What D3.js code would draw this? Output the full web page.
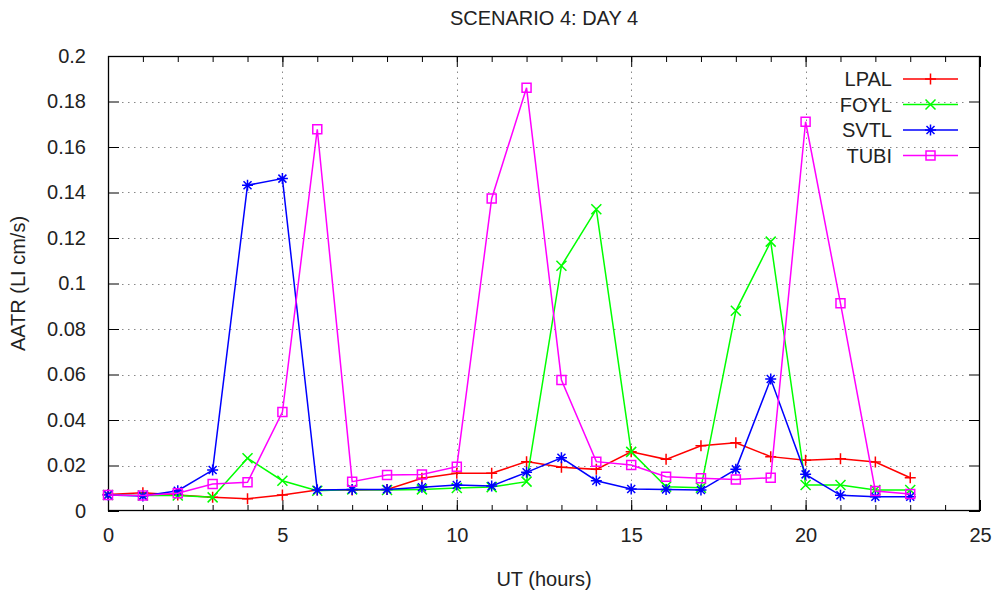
<!DOCTYPE html>
<html>
<head>
<meta charset="utf-8">
<script src="https://cdn.jsdelivr.net/npm/d3@7"></script>
<style>
  html, body { margin: 0; padding: 0; background: #fff; }
  svg { display: block; }
  text { font-family: "Liberation Sans", Arial, sans-serif; fill: #222; }
</style>
</head>
<body>
<svg id="chart" width="998" height="592"></svg>
<script>
const hours = d3.range(0, 24);
const seriesNames = ["LPAL", "FOYL", "SVTL", "TUBI"];
const LPAL = [0.0073, 0.0080, 0.0070, 0.0060, 0.0054, 0.0070, 0.0092, 0.0092, 0.0095, 0.0144, 0.0166, 0.0166,
              0.0217, 0.0192, 0.0183, 0.0260, 0.0227, 0.0287, 0.0300, 0.0239, 0.0223, 0.0230, 0.0215, 0.0146];
const FOYL = [0.0070, 0.0068, 0.0068, 0.0060, 0.0232, 0.0133, 0.0089, 0.0095, 0.0092, 0.0095, 0.0101, 0.0105,
              0.0129, 0.1078, 0.1326, 0.0260, 0.0107, 0.0102, 0.0880, 0.1184, 0.0114, 0.0114, 0.0092, 0.0092];
const SVTL = [0.0070, 0.0066, 0.0089, 0.0180, 0.1432, 0.1461, 0.0092, 0.0095, 0.0095, 0.0104, 0.0114, 0.0110,
              0.0170, 0.0234, 0.0133, 0.0097, 0.0095, 0.0092, 0.0183, 0.0580, 0.0161, 0.0069, 0.0063, 0.0063];
const TUBI = [0.0070, 0.0068, 0.0078, 0.0119, 0.0126, 0.0435, 0.1678, 0.0129, 0.0158, 0.0160, 0.0195, 0.1374,
              0.1860, 0.0576, 0.0217, 0.0202, 0.0151, 0.0144, 0.0139, 0.0146, 0.1711, 0.0913, 0.0088, 0.0075];
const xMajorTicks = [0, 5, 10, 15, 20, 25];
const xMinorTicks = d3.range(0, 26);
const yTicks = [0, 0.02, 0.04, 0.06, 0.08, 0.1, 0.12, 0.14, 0.16, 0.18, 0.2];
const titleText = "SCENARIO 4: DAY 4";
const xLabel = "UT (hours)";
const yLabel = "AATR (LI cm/s)";

const seriesValues = [LPAL, FOYL, SVTL, TUBI];
const colors = ["#ff0000", "#00ff00", "#0000ff", "#ff00ff"];
const markers = ["plus", "cross", "star", "square"];

const L = 108, R = 980, T = 56, B = 511;
const FS = 20;
const x = d3.scaleLinear().domain([0, 25]).range([L, R]);
const y = d3.scaleLinear().domain([0, 0.2]).range([B, T]);

const svg = d3.select("#chart");
svg.append("rect").attr("width", 998).attr("height", 592).attr("fill", "#fff");

// grid
const grid = svg.append("g").attr("stroke", "#888").attr("stroke-width", 1)
  .attr("stroke-dasharray", "1.5,4.5");
grid.selectAll("line.gx").data(xMajorTicks.filter(d => d > 0 && d < 25)).enter().append("line")
  .attr("x1", d => Math.round(x(d)) + 0.5).attr("x2", d => Math.round(x(d)) + 0.5)
  .attr("y1", B - 12).attr("y2", T + 12);
grid.selectAll("line.gy").data(yTicks.filter(d => d > 0 && d < 0.2)).enter().append("line")
  .attr("y1", d => Math.round(y(d)) + 0.5).attr("y2", d => Math.round(y(d)) + 0.5)
  .attr("x1", L + 14).attr("x2", R - 14);

// axes via d3 axis
const fmtY = d => String(+d.toFixed(2));
const axisStyle = g => {
  g.select(".domain").remove();
  g.selectAll(".tick line").attr("stroke", "#000").attr("stroke-width", 1);
  g.selectAll(".tick text").attr("font-size", FS).attr("fill", "#222")
    .attr("font-family", "Liberation Sans, Arial, sans-serif");
};
svg.append("g").attr("transform", `translate(0,${B})`)
  .call(d3.axisBottom(x).tickValues(xMinorTicks).tickSize(-6).tickFormat(""))
  .call(axisStyle);
svg.append("g").attr("transform", `translate(0,${B})`)
  .call(d3.axisBottom(x).tickValues(xMajorTicks).tickSize(-11).tickPadding(17).tickFormat(d3.format("d")))
  .call(axisStyle);
svg.append("g").attr("transform", `translate(0,${T})`)
  .call(d3.axisTop(x).tickValues(xMinorTicks).tickSize(-6).tickFormat(""))
  .call(axisStyle);
svg.append("g").attr("transform", `translate(0,${T})`)
  .call(d3.axisTop(x).tickValues(xMajorTicks).tickSize(-11).tickFormat(""))
  .call(axisStyle);
svg.append("g").attr("transform", `translate(${L},0)`)
  .call(d3.axisLeft(y).tickValues(yTicks).tickSize(-11).tickPadding(22).tickFormat(fmtY))
  .call(axisStyle);
svg.append("g").attr("transform", `translate(${R},0)`)
  .call(d3.axisRight(y).tickValues(yTicks).tickSize(-11).tickFormat(""))
  .call(axisStyle);

// frame
svg.append("rect").attr("x", L + 0.5).attr("y", T + 0.5).attr("width", R - L - 1).attr("height", B - T - 1)
  .attr("fill", "none").attr("stroke", "#000").attr("stroke-width", 1.3);

// marker paths
function markerPath(kind) {
  const s = 5.5, c = 5;
  if (kind === "plus") return `M${-s},0H${s}M0,${-s}V${s}`;
  if (kind === "cross") return `M${-c},${-c}L${c},${c}M${-c},${c}L${c},${-c}`;
  if (kind === "star") return `M${-s},0H${s}M0,${-s}V${s}M${-4},${-4}L4,4M${-4},4L4,${-4}`;
  return `M-4.5,-4.5H4.5V4.5H-4.5Z`;
}

const line = d3.line().x((d, i) => x(hours[i])).y(d => y(d));
seriesValues.forEach((vals, si) => {
  const g = svg.append("g");
  g.append("path").datum(vals).attr("d", line).attr("fill", "none")
    .attr("stroke", colors[si]).attr("stroke-width", 1.5);
  g.selectAll("path.m").data(vals).enter().append("path").attr("class", "m")
    .attr("transform", (d, i) => `translate(${x(hours[i])},${y(d)})`)
    .attr("d", markerPath(markers[si])).attr("fill", "none")
    .attr("stroke", colors[si]).attr("stroke-width", 1.5);
});

// legend
const leg = svg.append("g");
seriesNames.forEach((name, i) => {
  const ly = 79 + i * 25.5;
  leg.append("text").attr("x", 892).attr("y", ly).attr("dy", "0.36em")
    .attr("text-anchor", "end").attr("font-size", FS).text(name);
  leg.append("line").attr("x1", 903).attr("x2", 958).attr("y1", ly).attr("y2", ly)
    .attr("stroke", colors[i]).attr("stroke-width", 1.5);
  leg.append("path").attr("transform", `translate(930.5,${ly})`).attr("d", markerPath(markers[i]))
    .attr("fill", "none").attr("stroke", colors[i]).attr("stroke-width", 1.5);
});

// titles
svg.append("text").attr("x", (L + R) / 2).attr("y", 25).attr("text-anchor", "middle")
  .attr("font-size", FS).text(titleText);
svg.append("text").attr("x", (L + R) / 2).attr("y", 586).attr("text-anchor", "middle")
  .attr("font-size", FS).text(xLabel);
svg.append("text").attr("transform", `translate(25,${(T + B) / 2}) rotate(-90)`)
  .attr("text-anchor", "middle").attr("font-size", FS).text(yLabel);
</script>
</body>
</html>
